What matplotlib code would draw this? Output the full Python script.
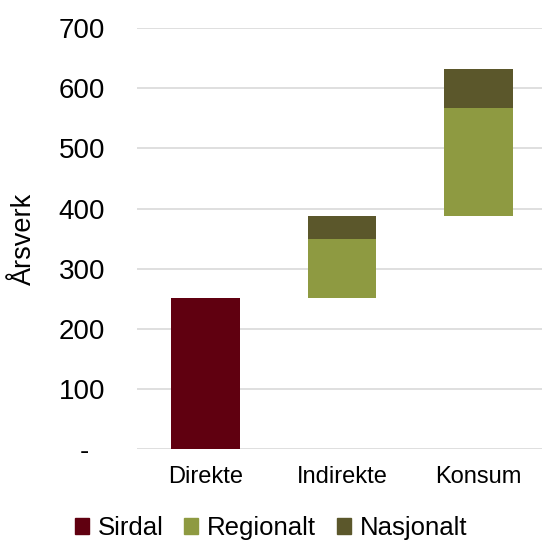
import matplotlib
matplotlib.use("Agg")
import matplotlib.pyplot as plt
from matplotlib.patches import Patch
import numpy as np

plt.rcParams['font.family'] = ['Liberation Sans', 'DejaVu Sans']

categories = ['Direkte', 'Indirekte', 'Konsum']
# waterfall: each bar starts where the previous one ended
sirdal = [251, 0, 0]
regionalt = [0, 98, 180]
nasjonalt = [0, 38, 66]
y_ticks = [0, 100, 200, 300, 400, 500, 600, 700]
y_tick_labels = ['-  ', '100', '200', '300', '400', '500', '600', '700']

colors = {'Sirdal': '#600010', 'Regionalt': '#8e9a41', 'Nasjonalt': '#5b572b'}

sirdal = np.array(sirdal)
regionalt = np.array(regionalt)
nasjonalt = np.array(nasjonalt)
totals = sirdal + regionalt + nasjonalt
start = np.concatenate([[0], np.cumsum(totals)[:-1]])

fig = plt.figure(figsize=(5.42, 5.42), dpi=100)
ax = fig.add_axes([0.253, 0.1716, 0.756, 0.7762])

x = np.arange(len(categories))
w = 0.5
ax.bar(x, sirdal, w, bottom=start, color=colors['Sirdal'], zorder=3)
ax.bar(x, regionalt, w, bottom=start + sirdal, color=colors['Regionalt'], zorder=3)
ax.bar(x, nasjonalt, w, bottom=start + sirdal + regionalt, color=colors['Nasjonalt'], zorder=3)

ax.set_xlim(-0.5, 2.5)
ax.set_ylim(0, 700)
ax.set_yticks(y_ticks)
ax.set_yticklabels(y_tick_labels, fontsize=20)
ax.set_xticks(x)
ax.set_xticklabels(categories, fontsize=17)
ax.tick_params(axis='y', length=0, pad=23)
ax.tick_params(axis='x', length=0, pad=12)
ax.yaxis.grid(True, color='#d9d9d9', linewidth=1.2, zorder=0)
ax.set_axisbelow(True)
for s in ax.spines.values():
    s.set_visible(False)

ax.set_ylabel('Årsverk', fontsize=19.5)
ax.yaxis.set_label_coords(-0.245, 0.5)

handles = [Patch(color=colors[k]) for k in ['Sirdal', 'Regionalt', 'Nasjonalt']]
fig.legend(handles, ['Sirdal', 'Regionalt', 'Nasjonalt'], loc='center',
           bbox_to_anchor=(0.5, 0.026), ncol=3, frameon=False, fontsize=18.5,
           handlelength=0.55, handleheight=0.55, handletextpad=0.35,
           columnspacing=0.8, borderaxespad=0)

fig.savefig('out.png', dpi=100)
